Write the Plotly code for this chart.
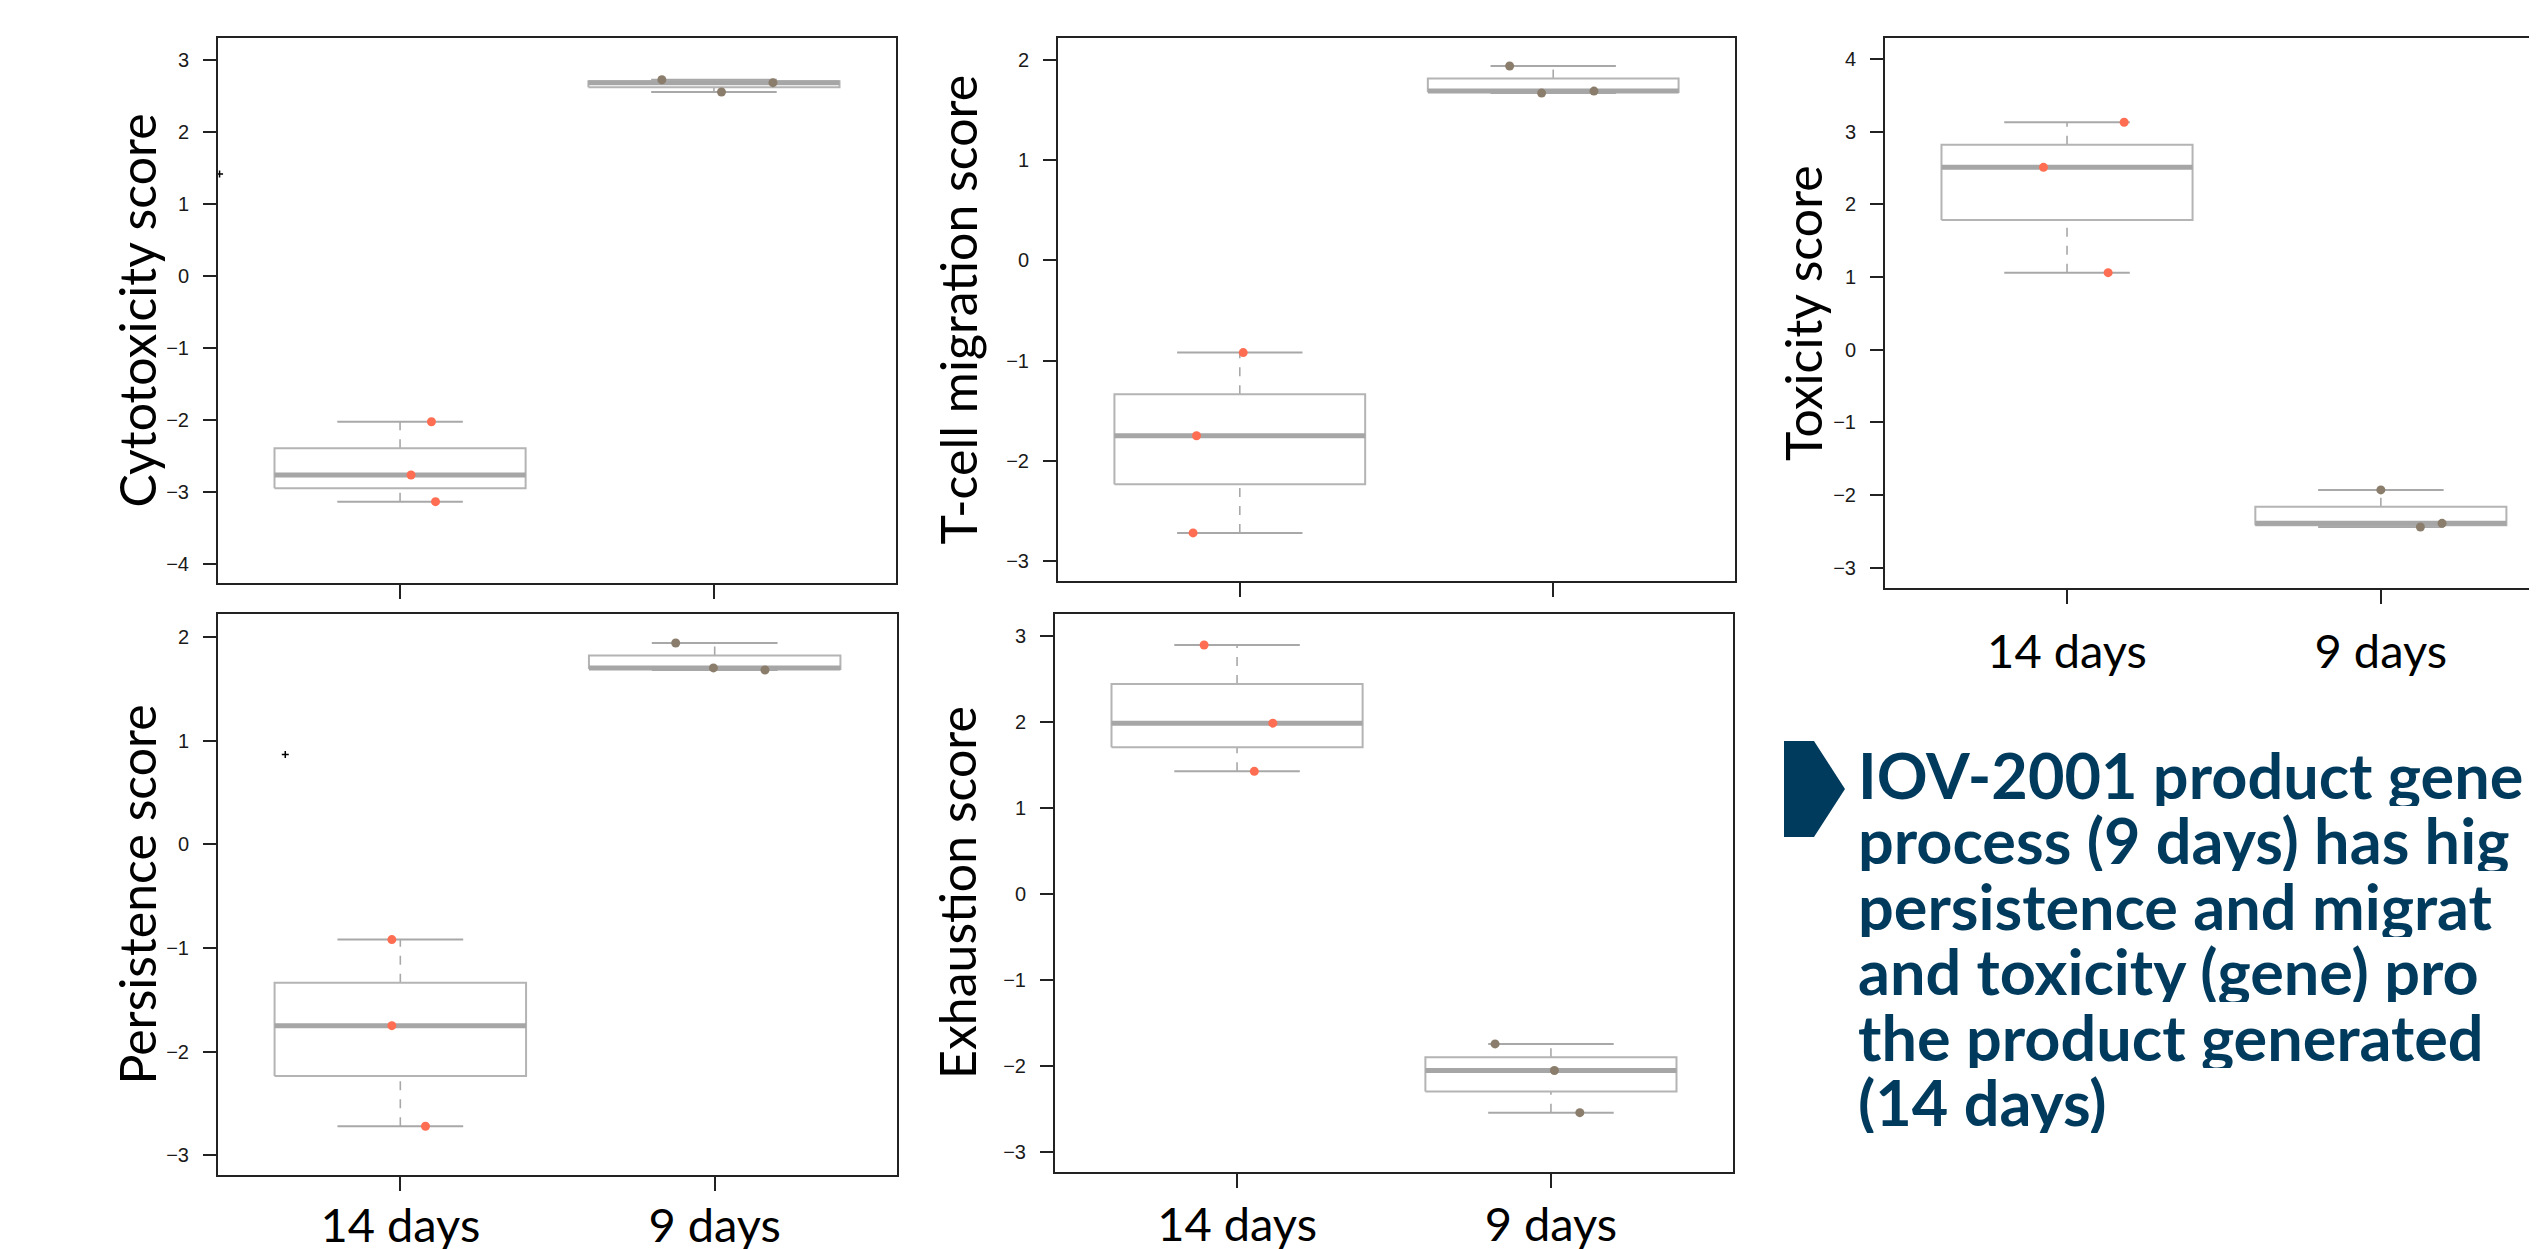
import plotly.graph_objects as go

W, H = 2537, 1249

# ---------------- data ----------------
groups = ["14 days", "9 days"]
score_names = ["Cytotoxicity score", "T-cell migration score", "Toxicity score",
               "Persistence score", "Exhaustion score"]

cytotoxicity_14 = [-2.02, -2.76, -3.13]
cytotoxicity_9 = [2.73, 2.56, 2.69]
tcell_migration_14 = [-0.92, -1.75, -2.72]
tcell_migration_9 = [1.94, 1.67, 1.69]
toxicity_14 = [3.13, 2.51, 1.06]
toxicity_9 = [-1.93, -2.44, -2.39]
persistence_14 = [-0.92, -1.75, -2.72]
persistence_9 = [1.94, 1.70, 1.68]
exhaustion_14 = [2.90, 1.99, 1.43]
exhaustion_9 = [-1.74, -2.05, -2.54]

# horizontal jitter of the points (as drawn in the reference)
jitter_cytotoxicity = [[0.10, 0.035, 0.113], [-0.166, 0.024, 0.188]]
jitter_tcell = [[0.011, -0.138, -0.149], [-0.139, -0.037, 0.13]]
jitter_toxicity = [[0.182, -0.075, 0.131], [0.0, 0.126, 0.195]]
jitter_persistence = [[-0.027, -0.027, 0.08], [-0.124, -0.004, 0.16]]
jitter_exhaustion = [[-0.105, 0.114, 0.055], [-0.178, 0.011, 0.092]]

# stray tiny marks visible in the reference
stray_cytotoxicity = (0.425, 1.42)
stray_persistence = (0.634, 0.866)

# summary text, as far as it is visible in the (cropped) reference
summary_lines = [
    "IOV-2001 product gene",
    "process (9 days) has hig",
    "persistence and migrat",
    "and toxicity (gene) pro",
    "the product generated",
    "(14 days)",
]

# ---------------- styling / layout ----------------
COL_14 = "#FF6E52"
COL_9 = "#8B7D6B"
BOX_COL = "#B4B4B4"
MED_COL = "#A6A6A6"
NAVY = "#003A5C"
LABEL_FONT = "Lato, 'Open Sans', sans-serif"
TICK_FONT = "'Liberation Sans', Arial, sans-serif"


def px_x(p):
    return p / W


def px_y(p):
    return 1 - p / H


panels = [
    dict(v=[cytotoxicity_14, cytotoxicity_9], j=jitter_cytotoxicity, yr=[-4.26, 3.31],
         yt=list(range(-4, 4)), dom=(210, 888, 30, 575), tx=128, xl=False, xr=[0.42, 2.58], mirror=True,
         stray=stray_cytotoxicity, so=6),
    dict(v=[tcell_migration_14, tcell_migration_9], j=jitter_tcell, yr=[-3.2, 2.22],
         yt=list(range(-3, 3)), dom=(1050, 1727, 30, 573), tx=949, xl=False, xr=[0.42, 2.58], mirror=True,
         stray=None, so=6),
    dict(v=[toxicity_14, toxicity_9], j=jitter_toxicity, yr=[-3.28, 4.29],
         yt=list(range(-3, 5)), dom=(1877, 2537, 30, 580), tx=1795, xl=True, xr=[0.42, 2.523], mirror=False,
         stray=None, so=8),
    dict(v=[persistence_14, persistence_9], j=jitter_persistence, yr=[-3.19, 2.22],
         yt=list(range(-3, 3)), dom=(210, 889, 606, 1167), tx=128, xl=True, xr=[0.42, 2.58], mirror=True,
         stray=stray_persistence, so=-5),
    dict(v=[exhaustion_14, exhaustion_9], j=jitter_exhaustion, yr=[-3.23, 3.26],
         yt=list(range(-3, 4)), dom=(1047, 1725, 606, 1164), tx=949, xl=True, xr=[0.42, 2.58], mirror=True,
         stray=None, so=-3),
]


def tukey(vals):
    s = sorted(vals)
    n = len(s)

    def med(a):
        m = len(a)
        return a[m // 2] if m % 2 else (a[m // 2 - 1] + a[m // 2]) / 2

    half = (n + 1) // 2
    return s[0], med(s[:half]), med(s), med(s[n - half:]), s[-1]


fig = go.Figure()
annotations = []
shapes = []
layout = {}

for i, p in enumerate(panels):
    k = i + 1
    xa = "x" if k == 1 else f"x{k}"
    ya = "y" if k == 1 else f"y{k}"
    for g, vals in enumerate(p["v"]):
        c = g + 1
        lo, q1, md, q3, hi = tukey(vals)
        bw, cw = 0.4, 0.2
        # whiskers (dashed)
        fig.add_trace(go.Scatter(x=[c, c, None, c, c], y=[q3, hi, None, lo, q1], mode="lines",
                                 line=dict(color="#A8A8A8", width=1.6, dash="dash"),
                                 xaxis=xa, yaxis=ya, showlegend=False, hoverinfo="skip"))
        # caps
        fig.add_trace(go.Scatter(x=[c - cw, c + cw, None, c - cw, c + cw], y=[hi, hi, None, lo, lo],
                                 mode="lines", line=dict(color="#A8A8A8", width=2),
                                 xaxis=xa, yaxis=ya, showlegend=False, hoverinfo="skip"))
        # box
        fig.add_trace(go.Scatter(x=[c - bw, c + bw, c + bw, c - bw, c - bw], y=[q1, q1, q3, q3, q1],
                                 mode="lines", line=dict(color=BOX_COL, width=2),
                                 xaxis=xa, yaxis=ya, showlegend=False, hoverinfo="skip"))
        # median
        fig.add_trace(go.Scatter(x=[c - bw, c + bw], y=[md, md], mode="lines",
                                 line=dict(color=MED_COL, width=5),
                                 xaxis=xa, yaxis=ya, showlegend=False, hoverinfo="skip"))
        # points
        fig.add_trace(go.Scatter(x=[c + d for d in p["j"][g]], y=vals, mode="markers",
                                 marker=dict(color=COL_14 if g == 0 else COL_9, size=9, line=dict(width=0)),
                                 xaxis=xa, yaxis=ya, showlegend=False, name=groups[g]))
    if p["stray"] is not None:
        fig.add_trace(go.Scatter(x=[p["stray"][0]], y=[p["stray"][1]], mode="markers",
                                 marker=dict(symbol="cross-thin", size=5, line=dict(color="black", width=1.5)),
                                 xaxis=xa, yaxis=ya, showlegend=False, hoverinfo="skip"))

    x0, x1, y0, y1 = p["dom"]
    xkey = "xaxis" if k == 1 else f"xaxis{k}"
    ykey = "yaxis" if k == 1 else f"yaxis{k}"
    layout[xkey] = dict(domain=[px_x(x0), px_x(x1)], anchor=ya, range=p["xr"],
                        tickvals=[1, 2], ticktext=groups, showticklabels=p["xl"],
                        ticks="outside", ticklen=14, tickwidth=2, tickcolor="#222",
                        showline=True, linecolor="#222", linewidth=2, mirror=True,
                        showgrid=False, zeroline=False,
                        tickfont=dict(family=LABEL_FONT, size=47, color="black"),
                        ticklabelstandoff=p["so"])
    layout[ykey] = dict(domain=[px_y(y1), px_y(y0)], anchor=xa, range=p["yr"],
                        tickvals=p["yt"], ticks="outside", ticklen=13, tickwidth=2, tickcolor="#222",
                        showline=True, linecolor="#222", linewidth=2, mirror=p["mirror"],
                        showgrid=False, zeroline=False,
                        tickfont=dict(family=TICK_FONT, size=20, color="#1a1a1a"),
                        ticklabelstandoff=10)
    annotations.append(dict(text=score_names[i], textangle=-90, xref="paper", yref="paper",
                            x=px_x(p["tx"]), y=px_y((y0 + y1) / 2), xanchor="center", yanchor="middle",
                            showarrow=False, font=dict(family=LABEL_FONT, size=50, color="black")))

# chevron marker next to the summary text
pts = [(1776, 733), (1806, 733), (1837, 781), (1806, 829), (1776, 829)]
path = "M " + " L ".join(f"{px_x(a):.5f},{px_y(b):.5f}" for a, b in pts) + " Z"
shapes.append(dict(type="path", xref="paper", yref="paper", path=path,
                   fillcolor=NAVY, line=dict(width=0)))

first_baseline = 788
line_gap = 65.4
for n, line in enumerate(summary_lines):
    base = first_baseline + n * line_gap
    annotations.append(dict(text=f"<b>{line}</b>", xref="paper", yref="paper",
                            x=px_x(1848), y=px_y(base - 22), xanchor="left", yanchor="middle",
                            height=64, valign="middle",
                            showarrow=False, align="left",
                            font=dict(family=LABEL_FONT, size=63, color=NAVY)))

fig.update_layout(width=W, height=H, margin=dict(l=0, r=0, t=0, b=0),
                  paper_bgcolor="white", plot_bgcolor="white",
                  annotations=annotations, shapes=shapes, showlegend=False, **layout)

fig.write_html("out.html")
